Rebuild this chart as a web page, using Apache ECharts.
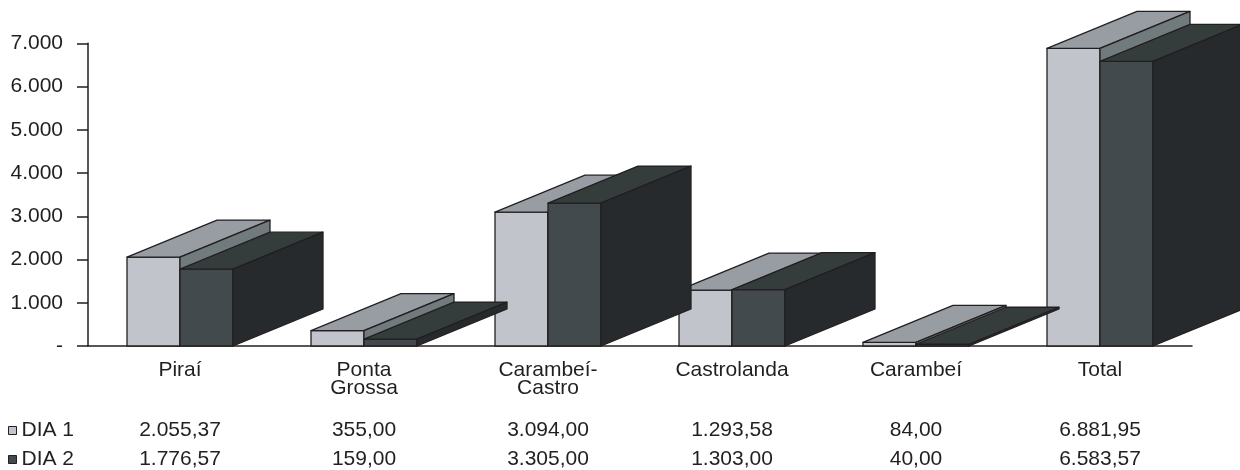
<!DOCTYPE html>
<html>
<head>
<meta charset="utf-8">
<script src="https://cdn.jsdelivr.net/npm/echarts@6/dist/echarts.min.js"></script>
<style>html,body{margin:0;padding:0;background:#fff}#c{width:1240px;height:470px}</style>
</head>
<body>
<div id="c"></div>
<script>
const categories = ['Piraí', 'Ponta Grossa', 'Carambeí-Castro', 'Castrolanda', 'Carambeí', 'Total'];
const dia1 = [2055.37, 355.00, 3094.00, 1293.58, 84.00, 6881.95];
const dia2 = [1776.57, 159.00, 3305.00, 1303.00, 40.00, 6583.57];
const seriesNames = ['DIA 1', 'DIA 2'];
const yMin = 0, yMax = 7000, yInterval = 1000;

const FONT = "'Liberation Sans', Arial, sans-serif";
const INK = '#231f20';
const FS = 21;
const faces = [
  { front: '#c1c4cb', top: '#989da4', side: '#717a7d' },
  { front: '#434a4d', top: '#353d3c', side: '#262a2d' }
];
const DX = 90, DY = 37, BAR_W = 53;

function thousands(intStr) {
  return intStr.replace(/\B(?=(\d{3})+(?!\d))/g, '.');
}
function fmtVal(v) {
  const parts = v.toFixed(2).split('.');
  return thousands(parts[0]) + ',' + parts[1];
}
function fmtTick(v) {
  return v === 0 ? '-' : thousands(String(Math.round(v)));
}
function wrapName(n) {
  return n.replace(' ', '\n').replace('-', '-\n');
}

function makeRender(k) {
  const f = faces[k];
  return function (params, api) {
    const idx = api.value(0), v = api.value(1);
    const base = api.coord([idx, 0]);
    const topP = api.coord([idx, v]);
    const cx = base[0];
    const x0 = k === 0 ? cx - BAR_W : cx;
    const x1 = k === 0 ? cx : cx + BAR_W;
    const yb = base[1], yt = topP[1];
    const st = { stroke: INK, lineWidth: 1.3, lineJoin: 'round' };
    return {
      type: 'group',
      children: [
        { type: 'polygon', shape: { points: [[x0, yb], [x1, yb], [x1, yt], [x0, yt]] },
          style: Object.assign({ fill: f.front }, st) },
        { type: 'polygon', shape: { points: [[x0, yt], [x1, yt], [x1 + DX, yt - DY], [x0 + DX, yt - DY]] },
          style: Object.assign({ fill: f.top }, st) },
        { type: 'polygon', shape: { points: [[x1, yb], [x1 + DX, yb - DY], [x1 + DX, yt - DY], [x1, yt]] },
          style: Object.assign({ fill: f.side }, st) }
      ]
    };
  };
}

const chart = echarts.init(document.getElementById('c'), null, { renderer: 'canvas' });
const valueRowAxis = (vals, offset) => ({
  type: 'category',
  data: vals.map(fmtVal),
  position: 'bottom',
  offset: offset,
  axisLine: { show: false },
  axisTick: { show: false },
  axisLabel: { interval: 0, margin: 8, fontSize: FS, lineHeight: 21, color: INK, fontFamily: FONT }
});

chart.setOption({
  animation: false,
  backgroundColor: '#ffffff',
  grid: { left: 88, right: 48, top: 43.3, bottom: 122.3, containLabel: false },
  legend: {
    orient: 'vertical',
    left: 8,
    top: 420,
    padding: 0,
    itemWidth: 8,
    itemHeight: 8,
    itemGap: 8,
    selectedMode: false,
    icon: 'rect',
    textStyle: { fontSize: FS, lineHeight: 21, color: INK, fontFamily: FONT },
    data: [
      { name: seriesNames[0], itemStyle: { color: faces[0].front, borderColor: INK, borderWidth: 1 } },
      { name: seriesNames[1], itemStyle: { color: faces[1].front, borderColor: INK, borderWidth: 1 } }
    ]
  },
  xAxis: [
    {
      type: 'category',
      data: categories,
      axisLine: { show: true, lineStyle: { color: INK, width: 1.5 } },
      axisTick: { show: false },
      axisLabel: {
        interval: 0, margin: 15, fontSize: FS, lineHeight: 18, color: INK, fontFamily: FONT,
        formatter: wrapName
      }
    },
    valueRowAxis(dia1, 66),
    valueRowAxis(dia2, 95)
  ],
  yAxis: {
    type: 'value',
    min: yMin, max: yMax, interval: yInterval,
    axisLine: { show: true, lineStyle: { color: INK, width: 1.5 } },
    axisTick: { show: true, inside: false, length: 11, lineStyle: { color: INK, width: 1.5 } },
    splitLine: { show: false },
    axisLabel: { margin: 25, fontSize: FS, color: INK, fontFamily: FONT, formatter: fmtTick }
  },
  series: [0, 1].map(k => ({
    type: 'custom',
    name: seriesNames[k],
    xAxisIndex: 0,
    yAxisIndex: 0,
    clip: false,
    itemStyle: { color: faces[k].front },
    encode: { x: 0, y: 1 },
    data: (k === 0 ? dia1 : dia2).map((v, i) => [i, v]),
    renderItem: makeRender(k)
  }))
});
</script>
</body>
</html>
